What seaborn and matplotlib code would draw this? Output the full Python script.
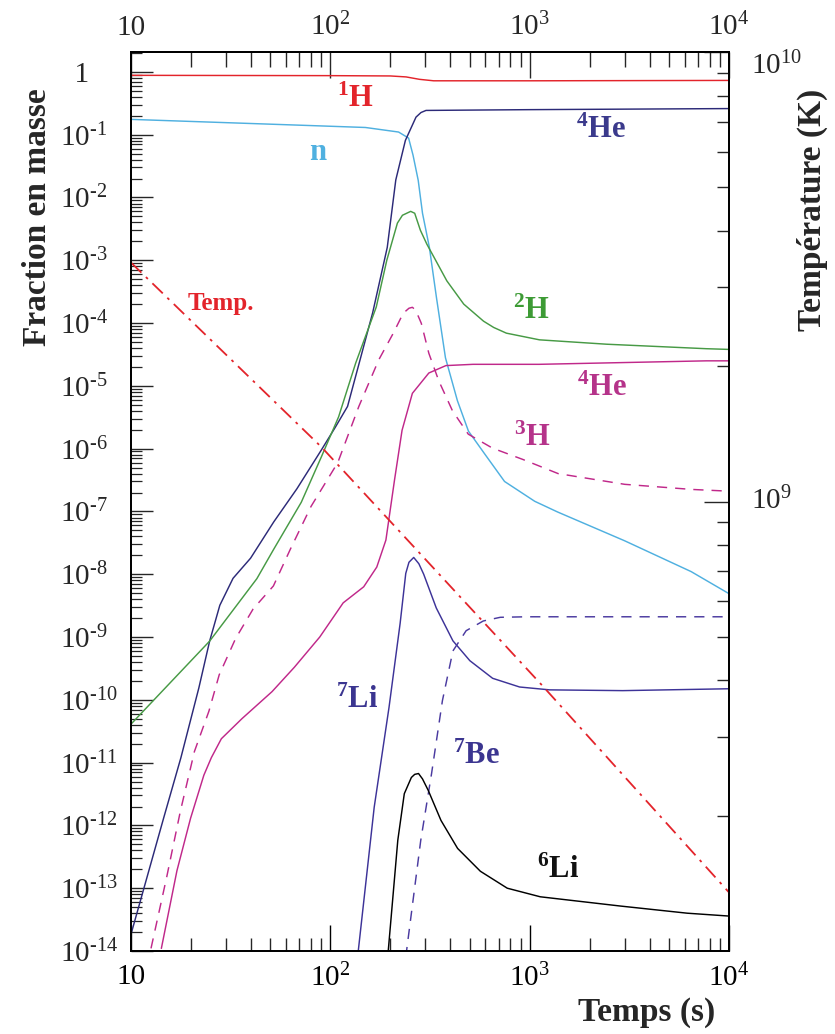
import matplotlib
matplotlib.use("Agg")
import matplotlib.pyplot as plt
import seaborn as sns
from matplotlib.ticker import FixedLocator, FixedFormatter, LogLocator, NullFormatter

# ---------------- data ----------------
t_H = [10, 100, 200, 240, 280, 330, 1000, 10000]
f_H = [0.88, 0.87, 0.86, 0.83, 0.76, 0.72, 0.72, 0.73]

t_n = [10, 77, 150, 220, 247, 260, 276, 290, 314, 341, 378, 434, 493, 597, 748, 1060, 1380, 3000,
       6460, 10000]
f_n = [0.175, 0.14, 0.13, 0.11, 0.088, 0.047, 1.87e-2, 5.6e-3, 1.6e-3, 2.5e-4, 2.8e-5, 5.8e-6,
       1.9e-6, 8.1e-7, 3.0e-7, 1.45e-7, 9.8e-8, 3.4e-8, 1.1e-8, 4.9e-9]

t_He4 = [10, 14.6, 17.8, 21.9, 24.8, 27.9, 32.5, 39.8, 52, 68, 90.5, 106, 122, 141, 163, 193, 213,
         238, 269, 285, 302, 1000, 10000]
f_He4 = [1.85e-14, 1.33e-12, 1.2e-11, 1.55e-10, 8.6e-10, 3.2e-9, 8.6e-9, 1.8e-8, 6.8e-8, 2.3e-7,
         9.7e-7, 2.2e-6, 4.7e-6, 2.6e-5, 1.45e-4, 1.6e-3, 1.9e-2, 8.1e-2, 0.19, 0.225, 0.243,
         0.25, 0.26]

t_H2 = [10, 24.8, 42.8, 52, 71.5, 90.5, 110, 134, 170, 192, 217, 230, 253, 265, 283, 305, 332,
        384, 467, 587, 660, 764, 1120, 2430, 7700, 10000]
f_H2 = [4.1e-11, 8.6e-10, 8.5e-9, 2.5e-8, 1.4e-7, 7.6e-7, 3.2e-6, 2.3e-5, 1.8e-4, 1.0e-3, 3.9e-3,
        5.2e-3, 6.0e-3, 5.6e-3, 3.0e-3, 1.8e-3, 1.1e-3, 4.7e-4, 2.0e-4, 1.07e-4, 8.5e-5, 6.9e-5,
        5.4e-5, 4.6e-5, 3.9e-5, 3.8e-5]

t_H3 = [12.6, 15.1, 17.7, 20.8, 24.6, 27.7, 33.5, 41, 51.8, 63, 80, 109, 139, 175, 207, 232, 248,
        258, 268, 286, 312, 350, 410, 492, 650, 927, 1390, 3000, 6500, 10000]
f_H3 = [1.1e-14, 1.5e-13, 1.7e-12, 1.5e-11, 6.6e-11, 2.5e-10, 9.5e-10, 2.8e-9, 6.5e-9, 2.5e-8,
        1.2e-7, 6.0e-7, 4.7e-6, 2.6e-5, 6.9e-5, 1.43e-4, 1.72e-4, 1.78e-4, 1.6e-4, 9.9e-5, 3.3e-5,
        1.2e-5, 4.0e-6, 1.7e-6, 1.02e-6, 6.7e-7, 4.0e-7, 2.7e-7, 2.24e-7, 2.1e-7]

t_He3 = [14.2, 17, 19.9, 23.2, 25.3, 28.4, 36, 51, 66, 88.5, 116, 147, 171, 190, 210, 229, 258,
         312, 380, 520, 1114, 7700, 10000]
f_He3 = [1.1e-14, 1.9e-13, 1.3e-12, 6.3e-12, 1.2e-11, 2.4e-11, 5e-11, 1.35e-10, 3.3e-10, 1.0e-9,
         3.5e-9, 6.3e-9, 1.3e-8, 3.5e-8, 3.2e-7, 1.96e-6, 7.6e-6, 1.6e-5, 2.1e-5, 2.2e-5, 2.2e-5,
         2.5e-5, 2.5e-5]

t_Li7 = [137, 166, 197, 224, 239, 248, 262, 278, 294, 340, 412, 501, 652, 890, 1260, 2930, 10000]
f_Li7 = [8e-15, 1.95e-12, 7.6e-11, 1.66e-9, 1.03e-8, 1.55e-8, 1.85e-8, 1.47e-8, 1.0e-8, 2.9e-9,
         8.7e-10, 4.2e-10, 2.2e-10, 1.6e-10, 1.44e-10, 1.4e-10, 1.5e-10]

t_Be7 = [239, 284, 322, 365, 412, 480, 585, 712, 962, 2020, 4330, 10000]
f_Be7 = [8e-15, 5.7e-13, 6.7e-12, 9.7e-11, 6.0e-10, 1.26e-9, 1.8e-9, 2.06e-9, 2.1e-9, 2.1e-9,
         2.1e-9, 2.1e-9]

t_Li6 = [194, 218, 235, 255, 265, 277, 290, 310, 359, 435, 566, 772, 1130, 2850, 6170, 10000]
f_Li6 = [8e-15, 5.8e-13, 3.2e-12, 5.8e-12, 6.5e-12, 6.7e-12, 5.5e-12, 3.6e-12, 1.2e-12, 4.3e-13,
         1.86e-13, 1.0e-13, 7.3e-14, 5.2e-14, 4.0e-14, 3.6e-14]

t_T = [10, 90.5, 1160, 10000]
temp_K = [3.4e9, 1.32e9, 3.89e8, 1.35e8]

HY = "\u2010"
x_ticks = [10, 100, 1000, 10000]
x_labels = ["10", r"$\mathrm{10^{2}}$", r"$\mathrm{10^{3}}$", r"$\mathrm{10^{4}}$"]
y_ticks = [10.0 ** (-k) for k in range(0, 15)]
y_labels = ["  1"] + [r"$\mathrm{10^{%s%d}}$" % (HY, k) for k in range(1, 15)]
T_ticks = [1e9, 1e10]
T_labels = [r"$\mathrm{10^{9}}$", r"$\mathrm{10^{10}}$"]

# ---------------- style ----------------
sns.set_style("ticks")
plt.rcParams["font.family"] = ["Liberation Serif", "DejaVu Serif"]
plt.rcParams["mathtext.fontset"] = "custom"
plt.rcParams["mathtext.rm"] = "Liberation Serif"
plt.rcParams["mathtext.it"] = "Liberation Serif:italic"
plt.rcParams["mathtext.bf"] = "Liberation Serif:bold"

C_RED = "#e3242b"
C_N = "#4fb0e0"
C_HE4 = "#2c2a78"
C_H2 = "#479a45"
C_MAG = "#c0288a"
C_LI7 = "#3d3398"
C_BE7 = "#4a3aa0"

fig = plt.figure(figsize=(8.35, 10.34), dpi=100)
ax = fig.add_axes([131 / 835, 83 / 1034, 598 / 835, 899 / 1034])
ax.set_xscale("log")
ax.set_yscale("log")
ax.set_xlim(10, 1e4)
ax.set_ylim(1e-14, 2.07)

def draw(axis, t, f, color, ls="-", lw=1.05):
    sns.lineplot(x=t, y=f, ax=axis, color=color, linestyle=ls, linewidth=lw,
                 estimator=None, sort=False)

draw(ax, t_H, f_H, C_RED)
draw(ax, t_n, f_n, C_N)
draw(ax, t_He4, f_He4, C_HE4)
draw(ax, t_H2, f_H2, C_H2)
draw(ax, t_H3, f_H3, C_MAG, ls=(0, (7, 5.5)))
draw(ax, t_He3, f_He3, C_MAG)
draw(ax, t_Li7, f_Li7, C_LI7)
draw(ax, t_Be7, f_Be7, C_BE7, ls=(0, (7, 5.5)))
draw(ax, t_Li6, f_Li6, "black")

ax2 = ax.twinx()
ax2.set_yscale("log")
ax2.set_ylim(1e8, 1e10)
draw(ax2, t_T, temp_K, C_RED, ls=(0, (8, 3.5, 1.5, 3.5)), lw=1.3)

ax.set_xlim(10, 1e4)
ax.set_ylim(1e-14, 2.07)
ax2.set_ylim(1e8, 1e10)
for a in (ax, ax2):
    a.set_xlabel("")
    a.set_ylabel("")
    for sp in a.spines.values():
        sp.set_linewidth(1.3)
        sp.set_color("black")
        sp.set_visible(True)

# ---- x axis (bottom) ----
ax.xaxis.set_major_locator(FixedLocator(x_ticks))
ax.xaxis.set_major_formatter(FixedFormatter(x_labels))
ax.xaxis.set_minor_locator(LogLocator(base=10, subs=range(2, 10), numticks=20))
ax.xaxis.set_minor_formatter(NullFormatter())
ax.tick_params(axis="x", which="major", direction="in", length=19, width=1.0,
               labelsize=21, pad=9, top=False, bottom=True, colors="black")
ax.tick_params(axis="x", which="minor", direction="in", length=9.5, width=1.0,
               top=False, bottom=True)

# ---- x axis (top) ----
sec = ax.secondary_xaxis("top")
sec.xaxis.set_major_locator(FixedLocator(x_ticks))
sec.xaxis.set_major_formatter(FixedFormatter(x_labels))
sec.xaxis.set_minor_locator(LogLocator(base=10, subs=range(2, 10), numticks=20))
sec.xaxis.set_minor_formatter(NullFormatter())
sec.tick_params(axis="x", which="major", direction="in", length=19, width=1.0,
                labelsize=21, pad=8)
sec.tick_params(axis="x", which="minor", direction="in", length=11, width=1.0)
sec.spines["top"].set_linewidth(1.3)

# ---- left y axis ----
ax.yaxis.set_major_locator(FixedLocator(y_ticks))
ax.yaxis.set_major_formatter(FixedFormatter(y_labels))
ax.yaxis.set_minor_locator(LogLocator(base=10, subs=range(2, 10), numticks=30))
ax.yaxis.set_minor_formatter(NullFormatter())
ax.tick_params(axis="y", which="major", direction="in", length=16, width=1.0,
               labelsize=21, pad=51, left=True, right=False)
ax.tick_params(axis="y", which="minor", direction="in", length=8, width=0.9,
               left=True, right=False)
for lab in ax.get_yticklabels():
    lab.set_horizontalalignment("left")

# ---- right y axis (temperature) ----
ax2.yaxis.set_major_locator(FixedLocator(T_ticks))
ax2.yaxis.set_major_formatter(FixedFormatter(T_labels))
ax2.yaxis.set_minor_locator(LogLocator(base=10, subs=range(2, 10), numticks=10))
ax2.yaxis.set_minor_formatter(NullFormatter())
ax2.tick_params(axis="y", which="major", direction="in", length=18, width=1.0,
                labelsize=21, pad=16, right=True, left=False)
ax2.tick_params(axis="y", which="minor", direction="in", length=9, width=1.0,
                right=True, left=False)
r_labels = ax2.get_yticklabels()
r_labels[0].set_verticalalignment("center")
r_labels[1].set_verticalalignment("top")

# ---- curve labels ----
lab_kw = dict(transform=ax.transAxes, ha="center", va="center", fontsize=22,
              fontweight="bold")
ax.text(0.376, 0.947, r"$^{\mathbf{1}}$H", color=C_RED, **lab_kw)
ax.text(0.313, 0.888, "n", color=C_N, **lab_kw)
ax.text(0.786, 0.913, r"$^{\mathbf{4}}$He", color="#3b3a8c", **lab_kw)
ax.text(0.669, 0.712, r"$^{\mathbf{2}}$H", color="#3d9b35", **lab_kw)
ax.text(0.788, 0.626, r"$^{\mathbf{4}}$He", color="#b5338a", **lab_kw)
ax.text(0.671, 0.570, r"$^{\mathbf{3}}$H", color="#b5338a", **lab_kw)
ax.text(0.378, 0.279, r"$^{\mathbf{7}}$Li", color="#3b3590", **lab_kw)
ax.text(0.577, 0.216, r"$^{\mathbf{7}}$Be", color="#3b3590", **lab_kw)
ax.text(0.714, 0.090, r"$^{\mathbf{6}}$Li", color="#111111", **lab_kw)
ax.text(0.150, 0.720, "Temp.", color=C_RED, transform=ax.transAxes, ha="center",
        va="center", fontsize=18, fontweight="bold")

# ---- axis titles ----
fig.text(38 / 835, 1 - 217 / 1034, "Fraction en masse", rotation=90, ha="center",
         va="center", fontsize=24, fontweight="bold")
fig.text(812 / 835, 1 - 210 / 1034, "Température (K)", rotation=90, ha="center",
         va="center", fontsize=24, fontweight="bold")
fig.text(647 / 835, 1 - 1012 / 1034, "Temps (s)", ha="center", va="center",
         fontsize=24, fontweight="bold")

fig.savefig("out.png", dpi=100)
